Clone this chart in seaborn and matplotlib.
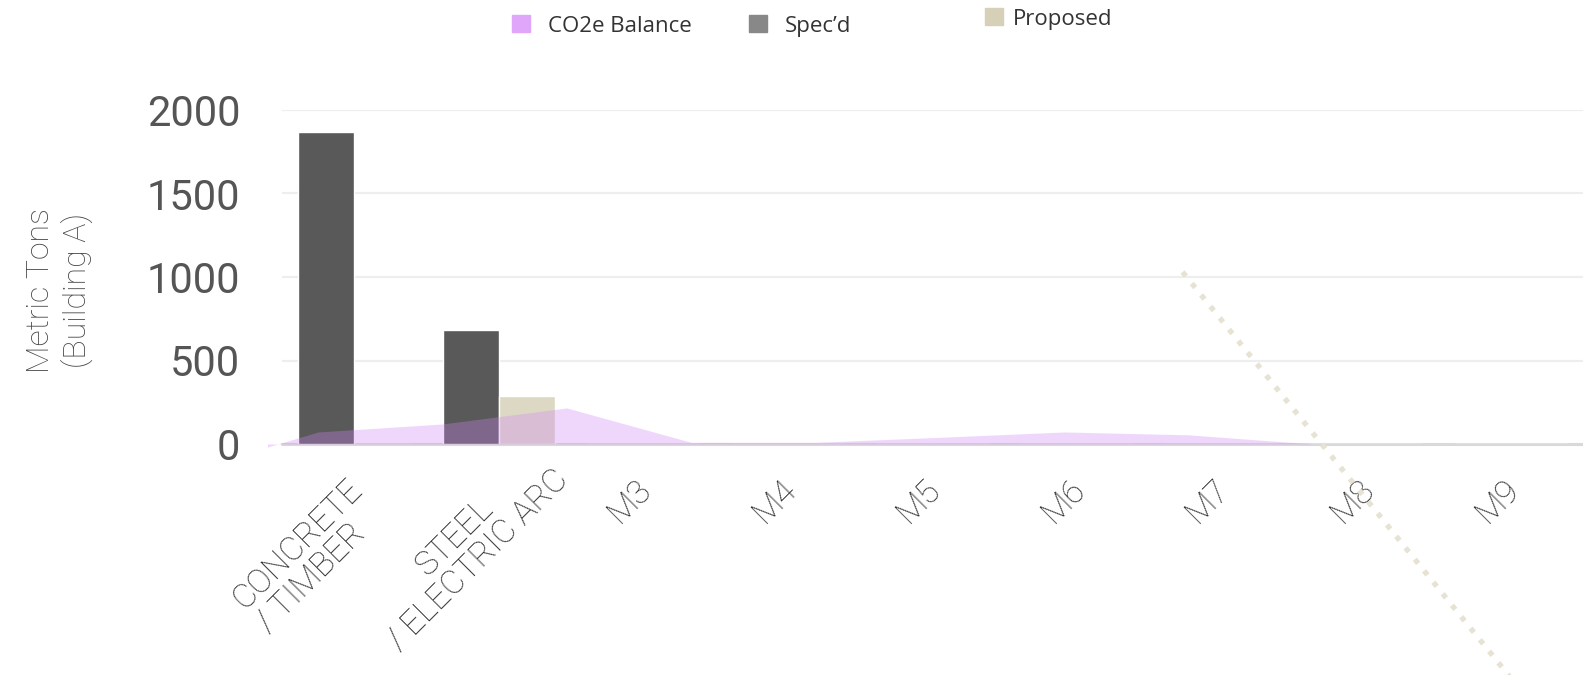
import matplotlib
matplotlib.use("Agg")
import matplotlib.pyplot as plt
import matplotlib.patches as mpatches
from matplotlib.transforms import ScaledTranslation
import seaborn as sns
import pandas as pd

# ---- data ----
categories = ["CONCRETE\n/ TIMBER", "STEEL\n/ ELECTRIC ARC", "M3", "M4", "M5", "M6", "M7", "M8", "M9"]
specd = [1870, 684, 0, 0, 0, 0, 0, 0, 0]
proposed = [0, 288, 0, 0, 0, 0, 0, 0, 0]
balance_x = [-0.6, -0.25, 0.61, 1.47, 2.33, 3.19, 4.05, 4.91, 5.77, 6.63, 7.49, 8.35, 8.5]
balance_y = [-18, 72, 120, 216, 10, 10, 40, 72, 55, 0, 0, 0, 0]
dotted_x = [5.73, 7.99]
dotted_y = [1030, -1390]
yticks = [0, 500, 1000, 1500, 2000]

C_BAL = "#D085F6"
C_BAL_LEG = "#E0A6FA"
C_SPEC = "#595959"
C_SPEC_LEG = "#888888"
C_PROP = "#DDD8C4"
C_PROP_LEG = "#D6D0B8"
C_DOT = "#E6E3D4"

sns.set_theme(style="white")
plt.rcParams["font.family"] = ["Roboto", "DejaVu Sans"]

df = pd.DataFrame({
    "cat": categories * 2,
    "val": specd + proposed,
    "series": ["Spec'd"] * len(categories) + ["Proposed"] * len(categories),
})

fig = plt.figure(figsize=(15.83, 6.75), dpi=100)
ax = fig.add_axes([282 / 1583, 1 - 444 / 675, 1 - 282 / 1583, (444 - 110) / 675])

sns.barplot(data=df, x="cat", y="val", hue="series", order=categories,
            hue_order=["Spec'd", "Proposed"],
            palette={"Spec'd": C_SPEC, "Proposed": C_PROP},
            width=0.775, saturation=1, ax=ax, legend=False, zorder=2)

ax.fill_between(balance_x, balance_y, 0, color=C_BAL, alpha=0.32, linewidth=0,
                zorder=3, clip_on=False)

sns.lineplot(x=dotted_x, y=dotted_y, ax=ax, color=C_DOT, linewidth=3.8,
             linestyle=(0, (1, 1.8)), zorder=4, clip_on=False)
for l in ax.lines:
    l.set_dash_capstyle("butt")
    l.set_clip_on(False)

ax.set_xlim(-0.5, 8.5)
ax.set_ylim(0, 2000)
ax.set_yticks(yticks)
ax.set_yticklabels([str(t) for t in yticks])
for s in ax.spines.values():
    s.set_visible(False)
ax.grid(False)
for t in yticks[1:]:
    ax.axhline(t, color="#EEEEEE", linewidth=1.6, zorder=1)
ax.axhline(0, color="#D9D9D9", linewidth=2.2, zorder=1.5, clip_on=False)

ax.tick_params(axis="y", length=0, pad=30, labelsize=30, labelcolor="#555555")
ax.tick_params(axis="x", length=0, pad=21)
ax.set_xticks(range(len(categories)))
ax.set_xticklabels(categories, rotation=45, ha="right", rotation_mode="anchor",
                   fontsize=24, color="#2E2E2E", fontweight="light",
                   multialignment="center", linespacing=1.05)
for i, lab in enumerate(ax.get_xticklabels()):
    dx, dy = -8, 0
    if i == 0:
        lab.set_multialignment("left")
    if i == 1:
        dx, dy = 30, 33
    lab.set_transform(lab.get_transform() +
                      ScaledTranslation(dx / 100, dy / 100, fig.dpi_scale_trans))
ax.set_xlabel("")
ax.set_ylabel("Metric Tons\n(Building A)", fontsize=23, color="#444444",
              fontweight="light", linespacing=1.25)
ax.yaxis.set_label_coords(-0.145, 0.46)

leg_font = {"family": "Open Sans", "size": 16}
h1 = [mpatches.Patch(color=C_BAL_LEG, label="CO2e Balance"),
      mpatches.Patch(color=C_SPEC_LEG, label="Spec\u2019d")]
leg1 = fig.legend(handles=h1, loc="center left", bbox_to_anchor=(512 / 1583, 1 - 26 / 675),
                  ncol=2, frameon=False, prop=leg_font, handlelength=0.8, handleheight=0.8,
                  handletextpad=0.8, columnspacing=2.6, borderpad=0, borderaxespad=0)
for t in leg1.get_texts():
    t.set_color("#333333")
h2 = [mpatches.Patch(color=C_PROP_LEG, label="Proposed")]
leg2 = fig.legend(handles=h2, loc="center left", bbox_to_anchor=(985 / 1583, 1 - 19 / 675),
                  frameon=False, prop=leg_font, handlelength=0.8, handleheight=0.8,
                  handletextpad=0.45, borderpad=0, borderaxespad=0)
for t in leg2.get_texts():
    t.set_color("#333333")

fig.savefig("out.png", dpi=100)
